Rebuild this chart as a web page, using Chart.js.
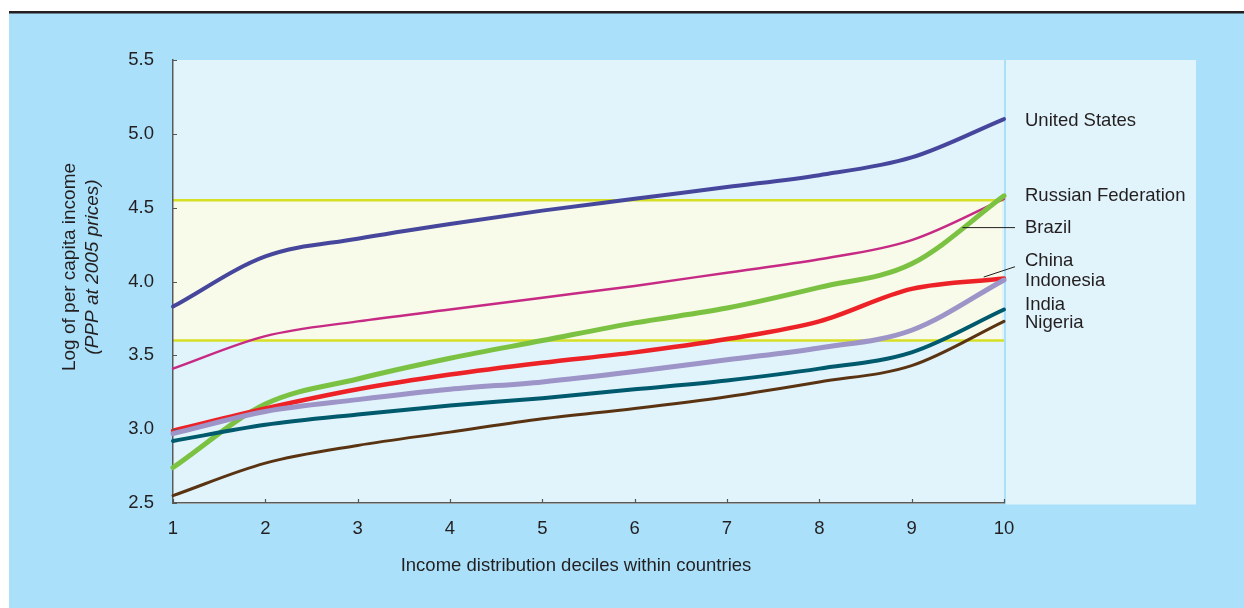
<!DOCTYPE html>
<html>
<head>
<meta charset="utf-8">
<script src="https://cdn.jsdelivr.net/npm/chart.js@4"></script>
<style>
  html, body { margin: 0; padding: 0; background: #ffffff; }
  #wrap { width: 1244px; height: 608px; }
</style>
</head>
<body>
<div id="wrap"><canvas id="c" width="1244" height="608"></canvas></div>
<script>
// ---------- data ----------
const deciles = ['1','2','3','4','5','6','7','8','9','10'];
const unitedStates = [3.83, 4.17, 4.29, 4.39, 4.48, 4.56, 4.64, 4.72, 4.84, 5.10];
const russianFederation = [3.41, 3.63, 3.73, 3.81, 3.89, 3.97, 4.06, 4.15, 4.28, 4.56];
const brazil = [2.74, 3.17, 3.34, 3.48, 3.60, 3.72, 3.82, 3.96, 4.12, 4.58];
const china = [2.99, 3.14, 3.27, 3.37, 3.45, 3.52, 3.61, 3.73, 3.95, 4.02];
const indonesia = [2.97, 3.12, 3.20, 3.27, 3.32, 3.39, 3.47, 3.55, 3.67, 4.01];
const india = [2.92, 3.03, 3.10, 3.16, 3.21, 3.27, 3.33, 3.41, 3.52, 3.81];
const nigeria = [2.55, 2.77, 2.89, 2.98, 3.07, 3.14, 3.22, 3.32, 3.43, 3.73];
const yTicks = [2.5, 3.0, 3.5, 4.0, 4.5, 5.0, 5.5];
const bandRange = [3.60, 4.55];
const seriesNames = ['United States','Russian Federation','Brazil','China','Indonesia','India','Nigeria'];
const labelYValues = [5.09, 4.58, 4.365, 4.14, 4.005, 3.84, 3.722];

// ---------- styles ----------
const FONT = '"Liberation Sans", Arial, sans-serif';
const TXT = '#231f20';
const seriesStyle = [
  { data: unitedStates,      color: '#46479c', width: 4 },
  { data: russianFederation, color: '#c72a84', width: 2.5 },
  { data: brazil,            color: '#7cc242', width: 5 },
  { data: china,             color: '#ed2227', width: 4.5 },
  { data: indonesia,         color: '#9d94c8', width: 5 },
  { data: india,             color: '#005a6e', width: 4 },
  { data: nigeria,           color: '#5a3412', width: 3 }
];

const decor = {
  id: 'decor',
  beforeDraw(chart) {
    const ctx = chart.ctx, a = chart.chartArea;
    const ys = chart.scales.y;
    ctx.save();
    ctx.fillStyle = '#ffffff';
    ctx.fillRect(0, 0, chart.width, chart.height);
    ctx.fillStyle = '#aae0fa';
    ctx.fillRect(9, 13, chart.width - 9, chart.height - 13);
    ctx.fillStyle = '#231f20';
    ctx.fillRect(9, 11, chart.width - 9, 2.5);
    // light areas
    ctx.fillStyle = '#e1f4fb';
    ctx.fillRect(a.left, a.top, a.right - a.left, a.bottom - a.top + 1);
    ctx.fillRect(a.right + 2, a.top, 190, a.bottom - a.top + 1.5);
    // band
    const yTop = ys.getPixelForValue(bandRange[1]);
    const yBot = ys.getPixelForValue(bandRange[0]);
    ctx.fillStyle = '#f8fbe9';
    ctx.fillRect(a.left, yTop, a.right - a.left - 2, yBot - yTop);
    ctx.strokeStyle = '#d6df24';
    ctx.lineWidth = 2.5;
    ctx.beginPath();
    ctx.moveTo(a.left, yTop); ctx.lineTo(a.right, yTop);
    ctx.moveTo(a.left, yBot); ctx.lineTo(a.right, yBot);
    ctx.stroke();
    ctx.restore();
  },
  afterDraw(chart) {
    const ctx = chart.ctx, a = chart.chartArea;
    const xs = chart.scales.x, ys = chart.scales.y;
    ctx.save();
    // inward ticks
    ctx.strokeStyle = '#555555';
    ctx.lineWidth = 1.2;
    ctx.beginPath();
    yTicks.forEach(v => {
      const y = Math.round(ys.getPixelForValue(v)) + 0.5;
      ctx.moveTo(a.left, y); ctx.lineTo(a.left + 4, y);
    });
    deciles.forEach((d, i) => {
      const x = Math.round(xs.getPixelForValue(i)) + 0.5;
      ctx.moveTo(x, a.bottom); ctx.lineTo(x, a.bottom - 4);
    });
    ctx.stroke();
    // series labels
    ctx.fillStyle = TXT;
    ctx.font = '18.5px ' + FONT;
    ctx.textAlign = 'left';
    ctx.textBaseline = 'middle';
    const lx = a.right + 21;
    seriesNames.forEach((n, i) => {
      ctx.fillText(n, lx, ys.getPixelForValue(labelYValues[i]));
    });
    // leader lines
    ctx.strokeStyle = TXT;
    ctx.lineWidth = 1;
    ctx.beginPath();
    ctx.moveTo(xs.getPixelForValue(8.55), ys.getPixelForValue(4.365));
    ctx.lineTo(a.right + 11, ys.getPixelForValue(4.365));
    ctx.moveTo(xs.getPixelForValue(8.78), ys.getPixelForValue(4.03));
    ctx.lineTo(a.right + 11, ys.getPixelForValue(4.10));
    ctx.stroke();
    // axis titles
    ctx.textAlign = 'center';
    ctx.font = '18.5px ' + FONT;
    ctx.fillText('Income distribution deciles within countries', 576, 566);
    ctx.translate(70, 267);
    ctx.rotate(-Math.PI / 2);
    ctx.font = '19px ' + FONT;
    ctx.fillText('Log of per capita income', 0, 0);
    ctx.font = 'italic 19px ' + FONT;
    ctx.fillText('(PPP at 2005 prices)', 0, 23);
    ctx.restore();
  }
};

new Chart(document.getElementById('c'), {
  type: 'line',
  data: {
    labels: deciles,
    datasets: seriesStyle.map((s, i) => ({
      label: seriesNames[i],
      data: s.data,
      borderColor: s.color,
      backgroundColor: s.color,
      borderWidth: s.width,
      borderCapStyle: 'round',
      borderJoinStyle: 'round',
      pointRadius: 0,
      pointHoverRadius: 0,
      cubicInterpolationMode: 'monotone',
      fill: false,
      clip: 10
    })).reverse()
  },
  options: {
    responsive: false,
    animation: false,
    events: [],
    layout: { padding: { left: 0, right: 240, top: 60, bottom: 0 } },
    plugins: { legend: { display: false }, tooltip: { enabled: false } },
    scales: {
      x: {
        type: 'category',
        offset: false,
        grid: { display: false, drawTicks: false },
        border: { display: true, color: '#5a5a5a', width: 1.5 },
        ticks: { color: TXT, font: { family: FONT, size: 18.5 }, padding: 15, maxRotation: 0, autoSkip: false },
        afterFit(s) { s.height = 105; }
      },
      y: {
        min: 2.5, max: 5.5,
        grid: { display: false, drawTicks: false },
        border: { display: true, color: '#5a5a5a', width: 1.5 },
        ticks: {
          stepSize: 0.5, color: TXT, font: { family: FONT, size: 18.5 }, padding: 19,
          callback: v => Number(v).toFixed(1)
        },
        afterFit(s) { s.width = 173; }
      }
    }
  },
  plugins: [decor]
});
</script>
</body>
</html>
